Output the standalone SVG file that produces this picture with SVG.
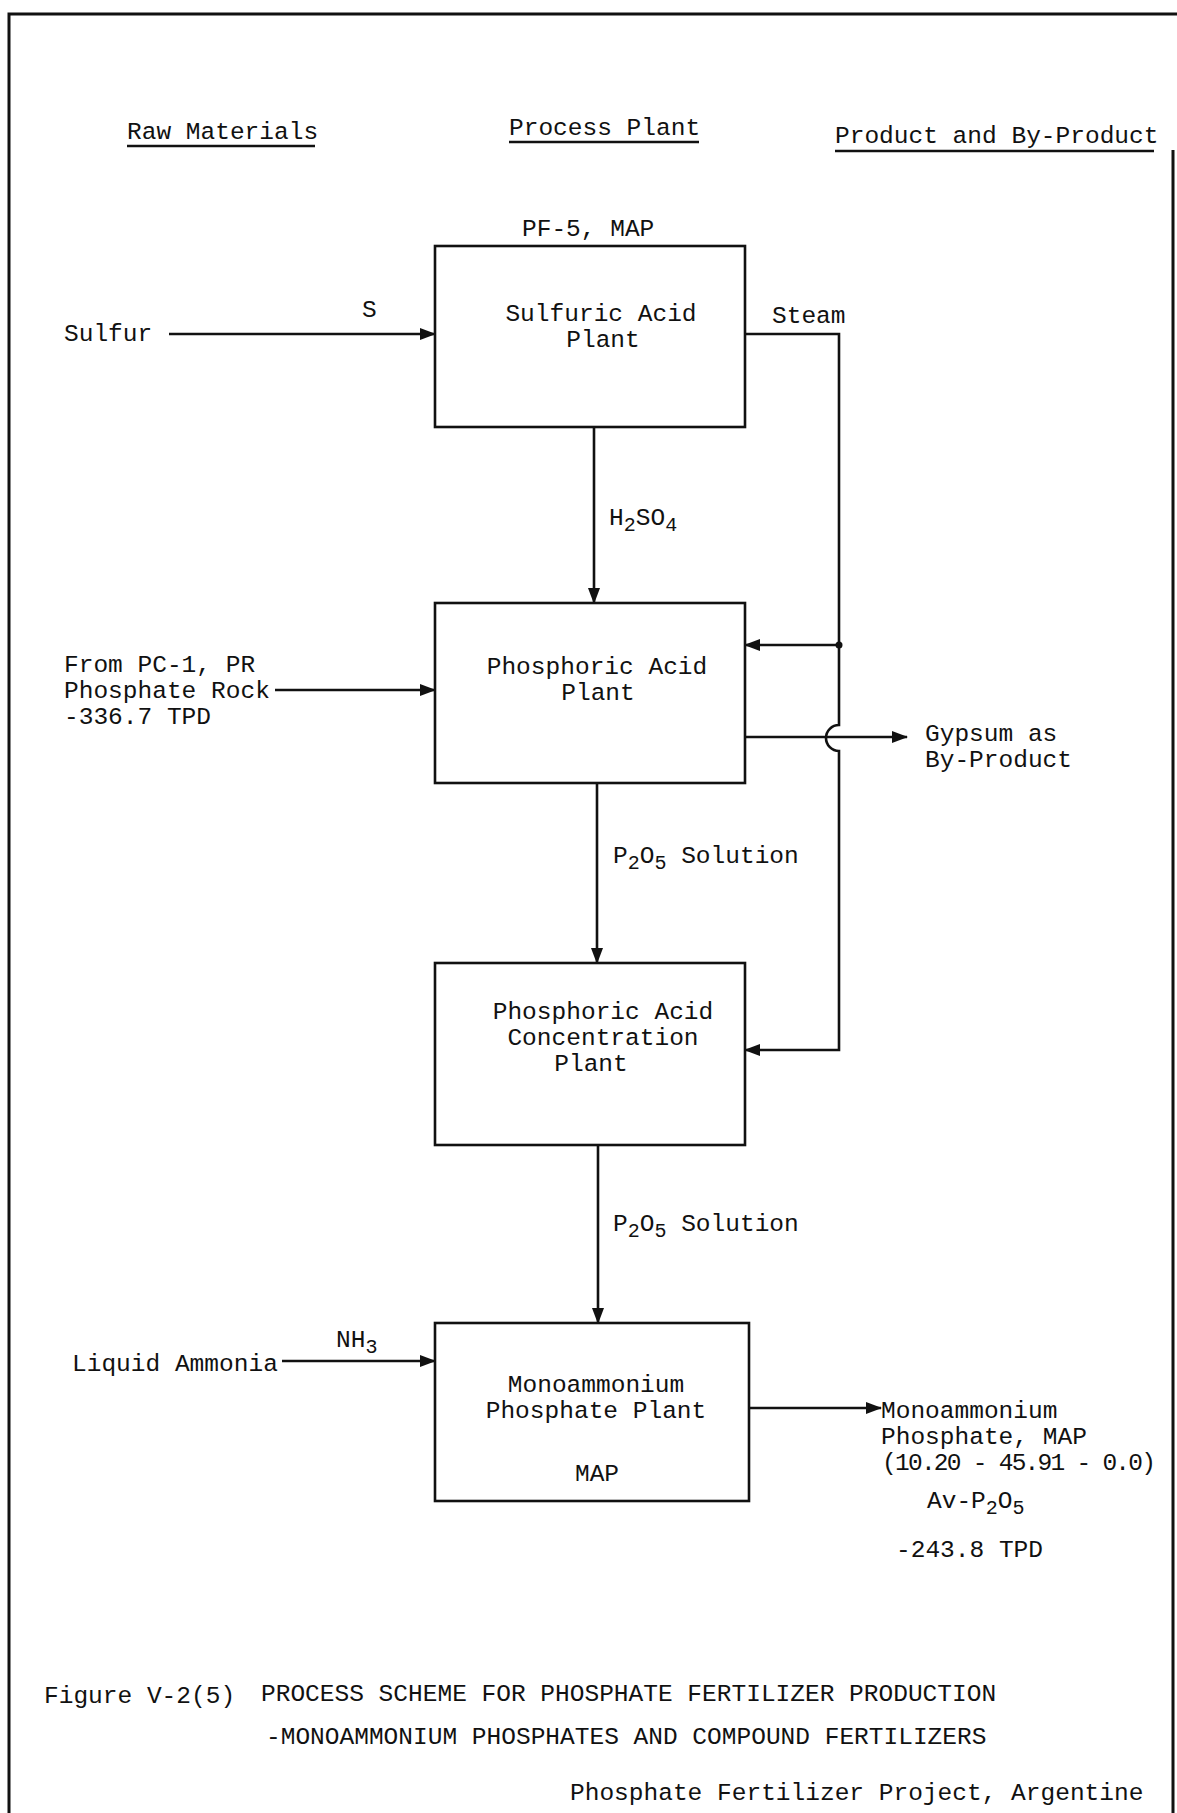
<svg xmlns="http://www.w3.org/2000/svg" width="1177" height="1813" viewBox="0 0 1177 1813">
  <style>
    text { font-family: "Liberation Mono", "Courier New", monospace; font-size: 24.5px; fill: #111; }
    .mid { text-anchor: middle; }
    .sub { font-size: 20px; }
    .box { fill: none; stroke: #111; stroke-width: 2.6; }
    .line { fill: none; stroke: #111; stroke-width: 2.6; }
    .frame { fill: none; stroke: #111; stroke-width: 3; }
    .rule { stroke: #111; stroke-width: 2.4; }
  </style>
  <defs>
    <marker id="arrow" viewBox="0 0 16 12" refX="15" refY="6" markerWidth="16" markerHeight="12" markerUnits="userSpaceOnUse" orient="auto">
      <path d="M0,0 L16,6 L0,12 Z" fill="#111"/>
    </marker>
  </defs>

  <rect width="1177" height="1813" fill="#fff"/>

  <!-- page frame -->
  <path class="frame" d="M9,1813 V14 H1177"/>
  <path class="frame" d="M1173,150 V1813"/>

  <!-- column headings -->
  <g id="headings">
    <text x="127" y="139">Raw Materials</text>
    <line class="rule" x1="127" y1="146" x2="315" y2="146"/>
    <text x="509" y="135">Process Plant</text>
    <line class="rule" x1="509" y1="142" x2="699" y2="142"/>
    <text x="835" y="143">Product and By-Product</text>
    <line class="rule" x1="835" y1="151" x2="1154" y2="151"/>
  </g>

  <!-- connectors -->
  <g id="connectors">
    <line class="line" x1="169" y1="334" x2="435" y2="334" marker-end="url(#arrow)"/>
    <line class="line" x1="594" y1="427" x2="594" y2="603" marker-end="url(#arrow)"/>
    <line class="line" x1="275" y1="690" x2="435" y2="690" marker-end="url(#arrow)"/>
    <line class="line" x1="597" y1="783" x2="597" y2="963" marker-end="url(#arrow)"/>
    <line class="line" x1="598" y1="1145" x2="598" y2="1323" marker-end="url(#arrow)"/>
    <line class="line" x1="282" y1="1361" x2="435" y2="1361" marker-end="url(#arrow)"/>
    <line class="line" x1="749" y1="1408" x2="881" y2="1408" marker-end="url(#arrow)"/>
    <!-- steam main with hop over the gypsum line -->
    <path class="line" d="M745,334 H839 V725 A13,13 0 0 0 839,751 V1050 H745" marker-end="url(#arrow)"/>
    <line class="line" x1="839" y1="645" x2="745" y2="645" marker-end="url(#arrow)"/>
    <circle cx="839" cy="645" r="3.5" fill="#111"/>
    <!-- gypsum -->
    <line class="line" x1="745" y1="737" x2="907" y2="737" marker-end="url(#arrow)"/>
  </g>

  <!-- stream labels -->
  <g id="labels">
    <text x="64" y="341">Sulfur</text>
    <text x="362" y="317">S</text>
    <text x="522" y="236">PF-5, MAP</text>
    <text x="772" y="323">Steam</text>
    <text x="609" y="525">H<tspan class="sub" dy="6">2</tspan><tspan dy="-6">SO</tspan><tspan class="sub" dy="6">4</tspan></text>
    <text x="64" y="672">From PC-1, PR</text>
    <text x="64" y="698">Phosphate Rock</text>
    <text x="64" y="724">-336.7 TPD</text>
    <text x="925" y="741">Gypsum as</text>
    <text x="925" y="767">By-Product</text>
    <text x="613" y="863">P<tspan class="sub" dy="6">2</tspan><tspan dy="-6">O</tspan><tspan class="sub" dy="6">5</tspan><tspan dy="-6"> Solution</tspan></text>
    <text x="613" y="1231">P<tspan class="sub" dy="6">2</tspan><tspan dy="-6">O</tspan><tspan class="sub" dy="6">5</tspan><tspan dy="-6"> Solution</tspan></text>
    <text x="336" y="1347">NH<tspan class="sub" dy="6">3</tspan></text>
    <text x="72" y="1371">Liquid Ammonia</text>
    <text x="881" y="1418">Monoammonium</text>
    <text x="881" y="1444">Phosphate, MAP</text>
    <text x="882" y="1470" textLength="274">(10.20 - 45.91 - 0.0)</text>
    <text x="927" y="1508">Av-P<tspan class="sub" dy="6">2</tspan><tspan dy="-6">O</tspan><tspan class="sub" dy="6">5</tspan></text>
    <text x="896" y="1557">-243.8 TPD</text>
  </g>

  <!-- process plants -->
  <g id="sulfuric-acid-plant">
    <rect class="box" x="435" y="246" width="310" height="181"/>
    <text class="mid" x="601" y="321">Sulfuric Acid</text>
    <text class="mid" x="603" y="347">Plant</text>
  </g>
  <g id="phosphoric-acid-plant">
    <rect class="box" x="435" y="603" width="310" height="180"/>
    <text class="mid" x="597" y="674">Phosphoric Acid</text>
    <text class="mid" x="598" y="700">Plant</text>
  </g>
  <g id="concentration-plant">
    <rect class="box" x="435" y="963" width="310" height="182"/>
    <text class="mid" x="603" y="1019">Phosphoric Acid</text>
    <text class="mid" x="603" y="1045">Concentration</text>
    <text class="mid" x="591" y="1071">Plant</text>
  </g>
  <g id="map-plant">
    <rect class="box" x="435" y="1323" width="314" height="178"/>
    <text class="mid" x="596" y="1392">Monoammonium</text>
    <text class="mid" x="596" y="1418">Phosphate Plant</text>
    <text class="mid" x="597" y="1481">MAP</text>
  </g>

  <!-- caption -->
  <g id="caption">
    <text x="44" y="1703">Figure V-2(5)</text>
    <text x="261" y="1701">PROCESS SCHEME FOR PHOSPHATE FERTILIZER PRODUCTION</text>
    <text x="266" y="1744">-MONOAMMONIUM PHOSPHATES AND COMPOUND FERTILIZERS</text>
    <text x="570" y="1800">Phosphate Fertilizer Project, Argentine</text>
  </g>
</svg>
